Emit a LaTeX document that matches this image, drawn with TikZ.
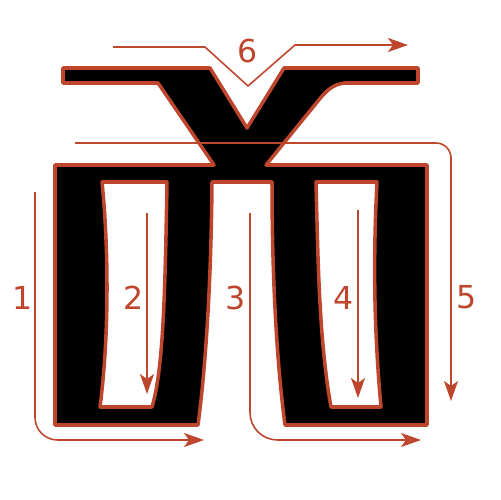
\documentclass[tikz,border=0pt]{standalone}
\usepackage{fontspec}
\usepackage{tikz}
\usetikzlibrary{arrows.meta}
\newfontfamily\labelfont{DejaVu Sans}
\definecolor{rust}{RGB}{190,70,45}

\begin{document}
\begin{tikzpicture}[x=0.02cm, y=-0.02cm,
  glyph/.style={fill=black, draw=rust, line width=2pt, even odd rule, line join=round},
  strokeline/.style={draw=rust, line width=0.9pt, -{Stealth[length=0.4cm, width=0.28cm, inset=0.1cm]}},
  num/.style={text=rust, font=\labelfont\fontsize{18}{20}\selectfont, inner sep=0pt}
]
  \useasboundingbox (0,0) rectangle (500,500);

  % the character, with its two inner holes
  \path[glyph]
    (63,68) -- (210,68) -- (247,128) -- (284,68) -- (418,68) -- (418,83) -- (345,83)
      .. controls (333,84) and (326,91) .. (318,101) -- (266,165)
    -- (427,165) -- (427,425) -- (285,425)
      .. controls (279,380) and (272,300) .. (272,182)
    -- (212,182)
      .. controls (211,300) and (204,380) .. (198,425)
    -- (55,425) -- (55,165) -- (214,165) -- (158,83) -- (63,83) -- cycle
    (102,182) -- (167,182)
      .. controls (165,300) and (163,370) .. (152,407)
    -- (100,407)
      .. controls (110,330) and (108,240) .. cycle
    (316,182) -- (377,182)
      .. controls (373,260) and (374,330) .. (381,407)
    -- (331,407)
      .. controls (319,340) and (318,260) .. cycle;

  % stroke order
  \coordinate (s1) at (35,192);   \coordinate (e1) at (204,440);
  \coordinate (s2) at (147,213);  \coordinate (e2) at (147,394);
  \coordinate (s3) at (250,213);  \coordinate (e3) at (421,440);
  \coordinate (s4) at (358,210);  \coordinate (e4) at (358,398);
  \coordinate (s5) at (75,143);   \coordinate (e5) at (451,401);
  \coordinate (s6) at (113,47);   \coordinate (e6) at (408,45);

  \draw[strokeline, rounded corners=0.45cm] (s1) |- (e1);
  \draw[strokeline] (s2) -- (e2);
  \draw[strokeline, rounded corners=0.55cm] (s3) |- (e3);
  \draw[strokeline] (s4) -- (e4);
  \draw[strokeline, rounded corners=0.3cm] (s5) -| (e5);
  \draw[strokeline] (s6) -- (205,47) -- (248,86) -- (295,45) -- (e6);

  \node[num] (n1) at (23,298) {1};
  \node[num] (n2) at (134,298) {2};
  \node[num] (n3) at (236,298) {3};
  \node[num] (n4) at (344,298) {4};
  \node[num] (n5) at (467,297) {5};
  \node[num] (n6) at (248,51) {6};
\end{tikzpicture}
\end{document}
